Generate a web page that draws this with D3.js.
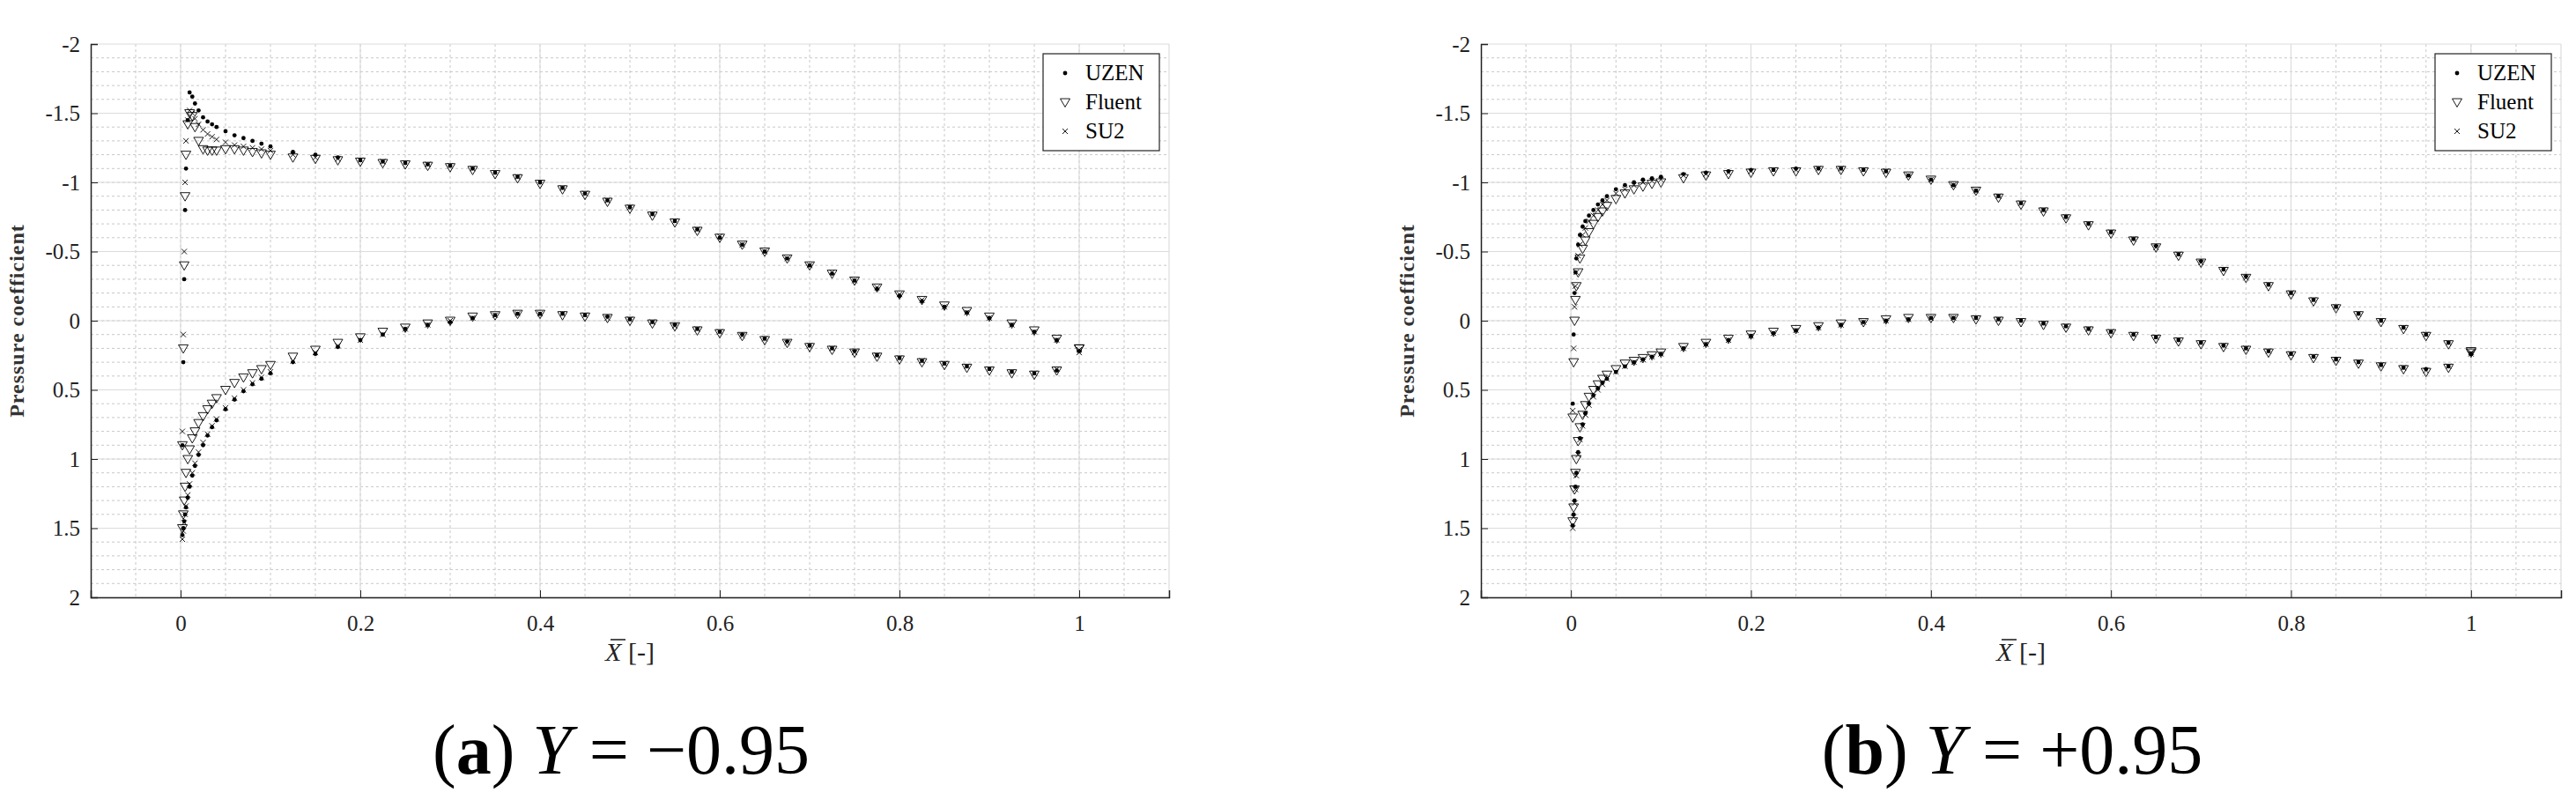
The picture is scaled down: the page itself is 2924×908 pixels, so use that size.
<!DOCTYPE html>
<html>
<head>
<meta charset="utf-8">
<script src="https://cdn.jsdelivr.net/npm/d3@7"></script>
<style>
  body { margin: 0; background: #fff; }
  text { font-family: "Liberation Serif", serif; }
</style>
</head>
<body>
<script>
// chord positions shared by every series (leading edge dense, then every 0.025)
var chordX = [0.002, 0.003, 0.004, 0.005, 0.006, 0.008, 0.010, 0.013, 0.016, 0.020,
  0.025, 0.030, 0.035, 0.040, 0.050, 0.060, 0.070, 0.080, 0.090, 0.100,
  0.125, 0.150, 0.175, 0.200, 0.225, 0.250, 0.275, 0.300, 0.325, 0.350,
  0.375, 0.400, 0.425, 0.450, 0.475, 0.500, 0.525, 0.550, 0.575, 0.600,
  0.625, 0.650, 0.675, 0.700, 0.725, 0.750, 0.775, 0.800, 0.825, 0.850,
  0.875, 0.900, 0.925, 0.950, 0.975, 1.000];

// panel (a) Y = -0.95
var aUzenUpper = [0.9, 0.3, -0.3, -0.8, -1.1, -1.45, -1.65, -1.62, -1.57, -1.52,
  -1.47, -1.44, -1.42, -1.40, -1.37, -1.34, -1.32, -1.30, -1.28, -1.26,
  -1.22, -1.20, -1.18, -1.16, -1.15, -1.14, -1.13, -1.12, -1.10, -1.07,
  -1.04, -1.00, -0.96, -0.92, -0.87, -0.82, -0.77, -0.72, -0.66, -0.60,
  -0.55, -0.50, -0.45, -0.40, -0.34, -0.29, -0.23, -0.18, -0.14, -0.10,
  -0.06, -0.02, 0.03, 0.08, 0.14, 0.22];
var aFluentUpper = [0.9, 0.2, -0.4, -0.9, -1.2, -1.42, -1.50, -1.48, -1.40, -1.30,
  -1.24, -1.23, -1.23, -1.23, -1.24, -1.24, -1.23, -1.22, -1.21, -1.20,
  -1.18, -1.17, -1.16, -1.15, -1.14, -1.13, -1.12, -1.11, -1.09, -1.06,
  -1.03, -0.99, -0.95, -0.91, -0.86, -0.81, -0.76, -0.71, -0.65, -0.60,
  -0.55, -0.50, -0.45, -0.40, -0.34, -0.29, -0.24, -0.19, -0.15, -0.11,
  -0.07, -0.03, 0.02, 0.07, 0.13, 0.20];
var aSu2Upper = [0.8, 0.1, -0.5, -1.0, -1.3, -1.45, -1.52, -1.50, -1.46, -1.42,
  -1.38, -1.35, -1.33, -1.31, -1.29, -1.27, -1.26, -1.25, -1.24, -1.23,
  -1.20, -1.18, -1.17, -1.16, -1.15, -1.14, -1.13, -1.12, -1.10, -1.07,
  -1.04, -1.00, -0.96, -0.92, -0.87, -0.82, -0.77, -0.72, -0.66, -0.61,
  -0.55, -0.50, -0.45, -0.40, -0.35, -0.29, -0.24, -0.19, -0.15, -0.10,
  -0.06, -0.02, 0.03, 0.08, 0.14, 0.21];
var aUzenLower = [1.55, 1.50, 1.45, 1.40, 1.35, 1.28, 1.20, 1.12, 1.05, 0.97,
  0.90, 0.83, 0.77, 0.72, 0.64, 0.57, 0.51, 0.46, 0.42, 0.38,
  0.30, 0.24, 0.19, 0.14, 0.10, 0.06, 0.03, 0.01, -0.02, -0.04,
  -0.05, -0.05, -0.05, -0.04, -0.03, -0.01, 0.01, 0.03, 0.06, 0.08,
  0.10, 0.13, 0.15, 0.18, 0.20, 0.22, 0.25, 0.27, 0.29, 0.31,
  0.33, 0.35, 0.37, 0.38, 0.36, 0.22];
var aFluentLower = [1.50, 1.40, 1.30, 1.20, 1.10, 1.00, 0.93, 0.85, 0.80, 0.74,
  0.69, 0.64, 0.60, 0.56, 0.50, 0.45, 0.41, 0.38, 0.35, 0.32,
  0.26, 0.21, 0.16, 0.12, 0.08, 0.05, 0.02, 0.00, -0.03, -0.04,
  -0.05, -0.05, -0.04, -0.03, -0.02, 0.00, 0.02, 0.04, 0.07, 0.09,
  0.11, 0.14, 0.16, 0.19, 0.21, 0.23, 0.26, 0.28, 0.30, 0.32,
  0.34, 0.36, 0.38, 0.39, 0.36, 0.20];
var aSu2Lower = [1.58, 1.52, 1.46, 1.40, 1.34, 1.26, 1.18, 1.10, 1.03, 0.95,
  0.88, 0.82, 0.76, 0.71, 0.63, 0.56, 0.50, 0.45, 0.41, 0.37,
  0.29, 0.23, 0.18, 0.14, 0.10, 0.06, 0.03, 0.00, -0.02, -0.04,
  -0.05, -0.05, -0.05, -0.04, -0.02, -0.01, 0.01, 0.04, 0.06, 0.08,
  0.11, 0.13, 0.16, 0.18, 0.20, 0.23, 0.25, 0.27, 0.29, 0.31,
  0.33, 0.35, 0.37, 0.38, 0.35, 0.23];

// panel (b) Y = +0.95
var bUzenUpper = [0.6, 0.1, -0.2, -0.35, -0.45, -0.55, -0.62, -0.68, -0.72, -0.76,
  -0.80, -0.84, -0.87, -0.90, -0.95, -0.98, -1.00, -1.02, -1.03, -1.04,
  -1.06, -1.07, -1.08, -1.09, -1.09, -1.10, -1.10, -1.10, -1.09, -1.08,
  -1.05, -1.02, -0.98, -0.94, -0.90, -0.85, -0.80, -0.75, -0.70, -0.64,
  -0.59, -0.54, -0.48, -0.43, -0.37, -0.32, -0.26, -0.20, -0.15, -0.10,
  -0.05, 0.00, 0.05, 0.10, 0.16, 0.24];
var bFluentUpper = [0.7, 0.3, 0.0, -0.15, -0.25, -0.35, -0.45, -0.52, -0.58, -0.64,
  -0.70, -0.75, -0.79, -0.83, -0.88, -0.92, -0.95, -0.97, -0.99, -1.00,
  -1.03, -1.05, -1.06, -1.07, -1.08, -1.08, -1.09, -1.09, -1.08, -1.07,
  -1.05, -1.02, -0.98, -0.94, -0.89, -0.84, -0.79, -0.74, -0.69, -0.63,
  -0.58, -0.53, -0.47, -0.42, -0.36, -0.31, -0.25, -0.19, -0.14, -0.09,
  -0.04, 0.01, 0.06, 0.11, 0.17, 0.22];
var bSu2Upper = [0.65, 0.2, -0.1, -0.25, -0.35, -0.47, -0.55, -0.62, -0.67, -0.72,
  -0.76, -0.80, -0.84, -0.87, -0.92, -0.95, -0.98, -1.00, -1.01, -1.02,
  -1.05, -1.06, -1.07, -1.08, -1.09, -1.09, -1.10, -1.10, -1.09, -1.08,
  -1.05, -1.02, -0.98, -0.94, -0.90, -0.85, -0.80, -0.75, -0.70, -0.64,
  -0.59, -0.53, -0.48, -0.42, -0.37, -0.31, -0.26, -0.20, -0.15, -0.10,
  -0.05, 0.00, 0.05, 0.10, 0.16, 0.23];
var bUzenLower = [1.48, 1.40, 1.30, 1.20, 1.10, 0.95, 0.85, 0.75, 0.67, 0.60,
  0.54, 0.49, 0.45, 0.42, 0.37, 0.33, 0.30, 0.28, 0.26, 0.24,
  0.20, 0.17, 0.14, 0.11, 0.09, 0.07, 0.05, 0.03, 0.01, 0.00,
  -0.01, -0.02, -0.02, -0.02, -0.01, 0.00, 0.02, 0.04, 0.06, 0.08,
  0.10, 0.12, 0.14, 0.16, 0.18, 0.20, 0.22, 0.24, 0.26, 0.28,
  0.30, 0.32, 0.34, 0.35, 0.33, 0.24];
var bFluentLower = [1.45, 1.35, 1.22, 1.10, 1.00, 0.87, 0.77, 0.68, 0.61, 0.55,
  0.50, 0.46, 0.42, 0.39, 0.35, 0.31, 0.29, 0.27, 0.25, 0.23,
  0.19, 0.16, 0.13, 0.10, 0.08, 0.06, 0.04, 0.02, 0.01, -0.01,
  -0.02, -0.02, -0.02, -0.01, 0.00, 0.01, 0.03, 0.05, 0.07, 0.09,
  0.11, 0.13, 0.15, 0.17, 0.19, 0.21, 0.23, 0.25, 0.27, 0.29,
  0.31, 0.33, 0.35, 0.37, 0.34, 0.23];
var bSu2Lower = [1.50, 1.42, 1.32, 1.22, 1.12, 0.97, 0.86, 0.76, 0.68, 0.61,
  0.55, 0.50, 0.46, 0.42, 0.37, 0.33, 0.30, 0.28, 0.26, 0.24,
  0.20, 0.17, 0.14, 0.11, 0.09, 0.07, 0.05, 0.03, 0.01, 0.00,
  -0.01, -0.02, -0.02, -0.02, -0.01, 0.00, 0.02, 0.04, 0.06, 0.08,
  0.10, 0.12, 0.14, 0.16, 0.18, 0.20, 0.22, 0.24, 0.26, 0.28,
  0.30, 0.32, 0.34, 0.36, 0.33, 0.24];

var seriesNames = ['UZEN', 'Fluent', 'SU2'];
var xTicks = [0, 0.2, 0.4, 0.6, 0.8, 1];
var yTicks = [-2, -1.5, -1, -0.5, 0, 0.5, 1, 1.5, 2];
var yTickLabels = ['-2', '-1.5', '-1', '-0.5', '0', '0.5', '1', '1.5', '2'];

var panels = [
  { left: 103, right: 1327, caption: ['a', '\u22120.95'],
    series: [[aUzenUpper, aUzenLower], [aFluentUpper, aFluentLower], [aSu2Upper, aSu2Lower]] },
  { left: 1681, right: 2907, caption: ['b', '+0.95'],
    series: [[bUzenUpper, bUzenLower], [bFluentUpper, bFluentLower], [bSu2Upper, bSu2Lower]] }
];

var plotTop = 50, plotBottom = 678;

var svg = d3.select('body').append('svg')
  .attr('width', 2924)
  .attr('height', 908);

var toPoints = function(vals) {
  var n = Math.min(vals.length, chordX.length);
  var out = [];
  for (var i = 0; i < n; i++) out.push([chordX[i], vals[i]]);
  return out;
};

var drawMarker = function(g, kind, px, py) {
  if (kind === 0) {
    g.append('circle').attr('cx', px).attr('cy', py).attr('r', 2.4).attr('fill', '#000');
  } else if (kind === 1) {
    g.append('path')
      .attr('d', 'M' + (px - 5.5) + ',' + (py - 4) + 'L' + (px + 5.5) + ',' + (py - 4) + 'L' + px + ',' + (py + 5.5) + 'Z')
      .attr('fill', 'none').attr('stroke', '#000').attr('stroke-width', 0.9);
  } else {
    g.append('path')
      .attr('d', 'M' + (px - 3) + ',' + (py - 3) + 'L' + (px + 3) + ',' + (py + 3) + 'M' + (px - 3) + ',' + (py + 3) + 'L' + (px + 3) + ',' + (py - 3))
      .attr('stroke', '#000').attr('stroke-width', 0.9);
  }
};

panels.forEach(function(p) {
  var x = d3.scaleLinear().domain([-0.1, 1.1]).range([p.left, p.right]);
  var y = d3.scaleLinear().domain([-2, 2]).range([plotTop, plotBottom]);
  var g = svg.append('g');

  // grid: dashed minor lines, solid major lines
  g.selectAll('.vminor').data(d3.range(-0.05, 1.1, 0.05)).enter().append('line')
    .attr('x1', function(d) { return x(d); }).attr('x2', function(d) { return x(d); })
    .attr('y1', plotTop).attr('y2', plotBottom)
    .attr('stroke', '#c8c8c8').attr('stroke-dasharray', '3,3').attr('stroke-width', 1);
  g.selectAll('.hminor').data(d3.range(-1.9, 2, 0.1)).enter().append('line')
    .attr('y1', function(d) { return y(d); }).attr('y2', function(d) { return y(d); })
    .attr('x1', p.left).attr('x2', p.right)
    .attr('stroke', '#c8c8c8').attr('stroke-dasharray', '3,3').attr('stroke-width', 1);
  g.selectAll('.vmajor').data(xTicks.concat([1.1])).enter().append('line')
    .attr('x1', function(d) { return x(d); }).attr('x2', function(d) { return x(d); })
    .attr('y1', plotTop).attr('y2', plotBottom)
    .attr('stroke', '#dcdcdc').attr('stroke-width', 1.2);
  g.selectAll('.hmajor').data(yTicks).enter().append('line')
    .attr('y1', function(d) { return y(d); }).attr('y2', function(d) { return y(d); })
    .attr('x1', p.left).attr('x2', p.right)
    .attr('stroke', '#dcdcdc').attr('stroke-width', 1.2);

  // axes
  var xAxis = g.append('g').attr('transform', 'translate(0,' + plotBottom + ')')
    .call(d3.axisBottom(x).tickValues(xTicks).tickSize(-8).tickPadding(20).tickFormat(d3.format('')));
  var yAxis = g.append('g').attr('transform', 'translate(' + p.left + ',0)')
    .call(d3.axisLeft(y).tickValues(yTicks).tickSize(-8).tickPadding(12)
      .tickFormat(function(d, i) { return yTickLabels[i]; }));
  [xAxis, yAxis].forEach(function(a) {
    a.select('.domain').attr('stroke', '#222').attr('stroke-width', 1.5);
    a.selectAll('.tick line').attr('stroke', '#222');
    a.selectAll('text').attr('font-family', 'Liberation Serif').attr('font-size', 25).attr('fill', '#222');
  });
  yAxis.selectAll('.tick').filter(function(d) { return d === 2; }).select('line').remove();

  // data marks
  p.series.forEach(function(surfaces, k) {
    var sg = g.append('g');
    surfaces.forEach(function(vals) {
      toPoints(vals).forEach(function(pt) {
        drawMarker(sg, k, x(pt[0]), y(pt[1]));
      });
    });
  });

  // legend
  var lx = p.right - 143, ly = 61;
  g.append('rect').attr('x', lx).attr('y', ly).attr('width', 132).attr('height', 110)
    .attr('fill', '#fff').attr('stroke', '#222').attr('stroke-width', 1.2);
  seriesNames.forEach(function(name, i) {
    var cy = ly + 22 + i * 33;
    drawMarker(g, i, lx + 25, cy);
    g.append('text').attr('x', lx + 48).attr('y', cy + 8)
      .attr('font-size', 25).attr('fill', '#000').text(name);
  });

  // axis titles
  g.append('text')
    .attr('transform', 'translate(' + (p.left - 76) + ',' + ((plotTop + plotBottom) / 2) + ') rotate(-90)')
    .attr('text-anchor', 'middle').attr('font-size', 24).attr('font-weight', 'bold')
    .attr('fill', '#333').attr('letter-spacing', 1).text('Pressure coefficient');
  var cx = x(0.5);
  var xl = g.append('text').attr('x', cx).attr('y', 750).attr('text-anchor', 'middle')
    .attr('font-size', 30).attr('fill', '#222');
  xl.append('tspan').attr('font-style', 'italic').text('X');
  xl.append('tspan').text(' [-]');
  g.append('line').attr('x1', cx - 22).attr('x2', cx - 5).attr('y1', 726).attr('y2', 726)
    .attr('stroke', '#222').attr('stroke-width', 1.6);

  // caption
  var cap = svg.append('text').attr('x', (p.left + p.right) / 2 - 10).attr('y', 878)
    .attr('text-anchor', 'middle').attr('font-size', 80).attr('fill', '#000');
  cap.append('tspan').text('(');
  cap.append('tspan').attr('font-weight', 'bold').text(p.caption[0]);
  cap.append('tspan').text(') ');
  cap.append('tspan').attr('font-style', 'italic').text('Y');
  cap.append('tspan').text(' = ' + p.caption[1]);
});
</script>
</body>
</html>
